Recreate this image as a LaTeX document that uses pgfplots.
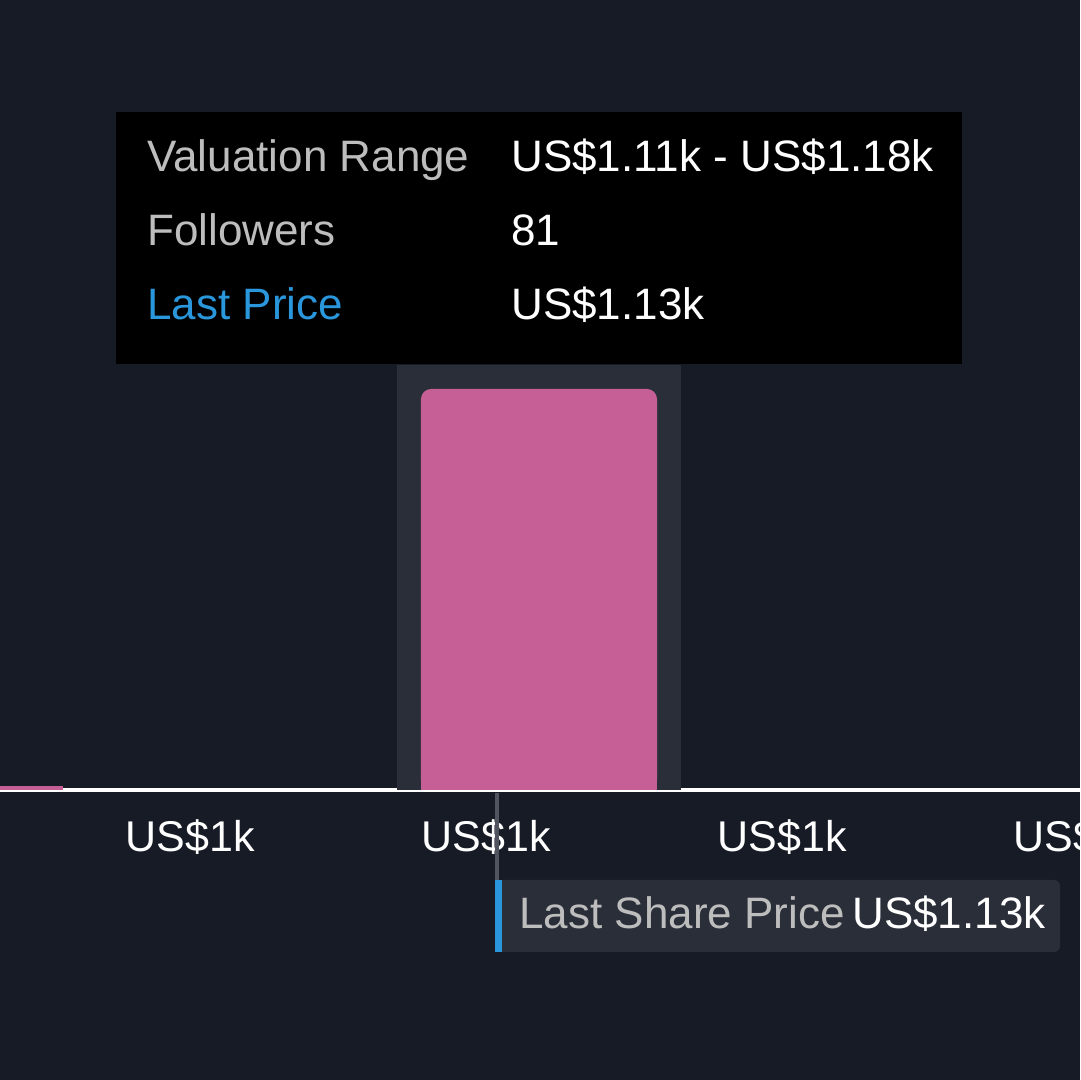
\documentclass[border=0pt]{standalone}
\usepackage{fontspec}
\setmainfont{Liberation Sans}
\usepackage{pgfplots}
\pgfplotsset{compat=1.18}
\definecolor{bg}{HTML}{161B26}
\definecolor{hl}{HTML}{2A2E39}
\definecolor{barpink}{HTML}{C55F96}
\definecolor{lblgray}{HTML}{BDBDBD}
\definecolor{tipblue}{HTML}{2A96DC}
\definecolor{markgray}{HTML}{50545E}
\newcommand{\tipfont}{\fontsize{22}{26}\selectfont}
\begin{document}
\begin{tikzpicture}
\useasboundingbox (0,0) rectangle (540pt,540pt);
\clip (0,0) rectangle (540pt,540pt);
\fill[bg] (0,0) rectangle (540pt,540pt);
\begin{axis}[at={(0,0)}, anchor=south west, scale only axis,
  width=540pt, height=540pt,
  xmin=985.13, xmax=1305.47, ymin=-58.58, ymax=159.58,
  axis x line=middle, axis y line=none,
  axis line style={-, white, line width=2pt},
  xtick={1041.49,1129.28,1217.08,1304.88},
  xticklabels={US\$1k,US\$1k,US\$1k,US\$1k},
  major tick length=0pt,
  xticklabel style={anchor=base, yshift=-31pt, text=white,
    font=\fontsize{21.5}{24}\selectfont},
  clip=false]
% hover highlight band
\addplot[fill=hl, draw=none] coordinates {(1102.89,0) (1102.89,85.85) (1187.12,85.85) (1187.12,0)} -- cycle;
% small bar at the left edge
\addplot[fill=barpink, draw=none] coordinates {(980,0) (980,0.8) (1003.82,0.8) (1003.82,0)} -- cycle;
% main bar: valuation range 1.11k - 1.18k, 81 followers
\addplot[fill=barpink, draw=none, rounded corners=5pt] coordinates {(1110,0) (1110,81) (1180,81) (1180,0)} -- cycle;
\addplot[fill=barpink, draw=none] coordinates {(1110,0) (1110,5) (1180,5) (1180,0)} -- cycle;
\end{axis}
\begin{scope}[x=0.5pt, y=-0.5pt, shift={(0pt,540pt)}]
  % tooltip
  \fill[black] (116,112) rectangle (962,364);
  \node[anchor=base west, inner sep=0pt, text=lblgray, font=\tipfont] at (147,172) {Valuation Range};
  \node[anchor=base west, inner sep=0pt, text=lblgray, font=\tipfont] at (147,246) {Followers};
  \node[anchor=base west, inner sep=0pt, text=tipblue, font=\tipfont] at (147,320) {Last Price};
  \node[anchor=base west, inner sep=0pt, text=white, font=\tipfont] at (511,172) {US\$1.11k - US\$1.18k};
  \node[anchor=base west, inner sep=0pt, text=white, font=\tipfont] at (511,246) {81};
  \node[anchor=base west, inner sep=0pt, text=white, font=\tipfont] at (511,320) {US\$1.13k};
  % last share price marker
  \fill[markgray] (495,793) rectangle (499,880);
  \fill[hl, rounded corners=3pt] (497,880) rectangle (1060,952);
  \fill[tipblue] (495,880) rectangle (502,952);
  \node[anchor=base west, inner sep=0pt, text=lblgray, font=\tipfont] at (519,929) {Last Share Price};
  \node[anchor=base west, inner sep=0pt, text=white, font=\tipfont] at (852,929) {US\$1.13k};
\end{scope}
\end{tikzpicture}
\end{document}
